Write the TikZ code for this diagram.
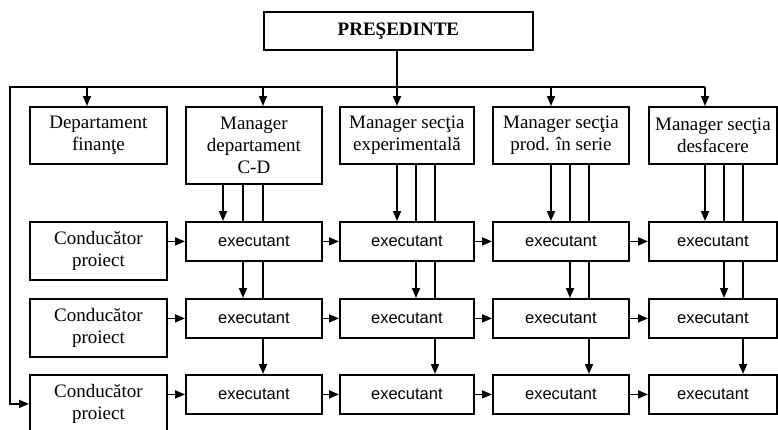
\documentclass[tikz,border=0pt]{standalone}
\usepackage{fontspec}
\setmainfont{Liberation Serif}
\newfontfamily\execfont{Liberation Sans}
\usetikzlibrary{arrows.meta}
\begin{document}
\begin{tikzpicture}[x=1pt,y=-1pt,
  box/.style={draw, line width=1.8pt, fill=white, inner sep=0pt, align=center,
    anchor=north west, font=\fontsize{19}{22}\selectfont},
  topbox/.style={box, minimum height=57pt},
  leadbox/.style={box, minimum width=137pt, minimum height=58pt},
  exbox/.style={box, font=\execfont\fontsize{16.5}{19}\selectfont, minimum height=39pt},
  ln/.style={line width=1.7pt},
  arr/.style={ln, -{Triangle[length=10pt,width=8pt]}}
]
\useasboundingbox (0,0) rectangle (778,429);

% president
\node[box, minimum width=269pt, minimum height=38pt, font=\bfseries\fontsize{19}{22}\selectfont]
  (pres) at (263,11) {PREŞEDINTE};

% departments and section managers
\node[topbox, minimum width=137pt] (fin) at (29,106) {Departament\\finanţe};
\node[box, minimum width=136pt, minimum height=77pt] (m1) at (185,106) {Manager\\departament\\C-D};
\node[topbox, minimum width=134pt] (m2) at (339,106) {Manager secţia\\experimentală};
\node[topbox, minimum width=136pt] (m3) at (492,106) {Manager secţia\\prod. în serie};
\node[topbox, minimum width=128pt] (m4) at (648,106) {Manager secţia\\desfacere};

% project leaders
\node[leadbox] (c1) at (29,221) {Conducător\\proiect};
\node[leadbox] (c2) at (29,298) {Conducător\\proiect};
\node[leadbox] (c3) at (29,374) {Conducător\\proiect};

% executants grid
\foreach \r/\y in {1/221, 2/298, 3/374} {
  \node[exbox, minimum width=136pt] (e\r1) at (185,\y) {executant};
  \node[exbox, minimum width=134pt] (e\r2) at (339,\y) {executant};
  \node[exbox, minimum width=136pt] (e\r3) at (492,\y) {executant};
  \node[exbox, minimum width=128pt] (e\r4) at (648,\y) {executant};
}

% distribution bus from the president
\coordinate (busL) at (10,87);
\coordinate (busR) at (705,87);
\coordinate (k0) at (87,87);
\coordinate (k1) at (263,87);
\coordinate (k2) at (397,87);
\coordinate (k3) at (551,87);
\coordinate (k4) at (705,87);
\draw[ln] (pres.south -| k2) -- (k2);
\draw[arr] (busR) -- (busL) -- (busL |- c3.west) -- (c3.west);
\draw[arr] (k0) -- (k0 |- fin.north);
\foreach \i in {1,...,4} {
  \draw[arr] (k\i) -- (k\i |- m\i.north);
}

% lines from each manager down to the executant rows
\foreach \col/\xa/\xb/\xc in {1/223/243/263, 2/397/416/435, 3/551/570/589, 4/705/724/743} {
  \coordinate (la) at (\xa,0);
  \coordinate (lb) at (\xb,0);
  \coordinate (lc) at (\xc,0);
  \draw[arr] (la |- m\col.south) -- (la |- e1\col.north);
  \draw[ln]  (lb |- m\col.south) -- (lb |- e1\col.north);
  \draw[arr] (lb |- e1\col.south) -- (lb |- e2\col.north);
  \draw[ln]  (lc |- m\col.south) -- (lc |- e1\col.north);
  \draw[ln]  (lc |- e1\col.south) -- (lc |- e2\col.north);
  \draw[arr] (lc |- e2\col.south) -- (lc |- e3\col.north);
}

% horizontal flow along each row
\foreach \r in {1,2,3} {
  \draw[arr] (c\r.east |- e\r1.west) -- (e\r1.west);
  \draw[arr] (e\r1.east) -- (e\r2.west);
  \draw[arr] (e\r2.east) -- (e\r3.west);
  \draw[arr] (e\r3.east) -- (e\r4.west);
}
\end{tikzpicture}
\end{document}
